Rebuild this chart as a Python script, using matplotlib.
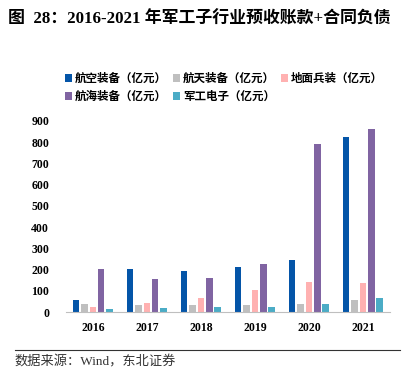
import numpy as np
import matplotlib
matplotlib.use("Agg")
import matplotlib.pyplot as plt

# Data
years = ["2016", "2017", "2018", "2019", "2020", "2021"]
series_names = ["航空装备（亿元）", "航天装备（亿元）", "地面兵装（亿元）",
                "航海装备（亿元）", "军工电子（亿元）"]
aviation = [56, 202, 193, 210, 246, 825]
space = [38, 34, 34, 34, 39, 55]
ground = [22, 42, 66, 105, 141, 138]
navy = [202, 155, 158, 226, 792, 861]
electronics = [16, 19, 23, 23, 39, 66]
colors = ["#0455A8", "#BFBFBF", "#FFB1B1", "#8064A2", "#4BACC6"]

cjk = ["Liberation Serif", "Noto Sans CJK SC", "DejaVu Sans"]
plt.rcParams["font.family"] = cjk

fig = plt.figure(figsize=(4.17, 3.73), dpi=100)
ax = fig.add_axes([0.158, 0.1635, 0.777, 0.5125])

x = np.arange(len(years))
step = 0.155
width = 0.12
all_series = [aviation, space, ground, navy, electronics]
handles = []
for i, (vals, name, c) in enumerate(zip(all_series, series_names, colors)):
    h = ax.bar(x + (i - 2) * step, vals, width=width, color=c, label=name)
    handles.append(h)

ax.set_xlim(-0.5, 5.5)
ax.set_ylim(0, 900)
ax.set_yticks(range(0, 901, 100))
ax.set_xticks(x)
ax.set_xticklabels(years)
for lab in ax.get_xticklabels() + ax.get_yticklabels():
    lab.set_fontweight("bold")
    lab.set_fontsize(8.5)
    lab.set_family("Liberation Serif")
ax.tick_params(axis="both", length=0)
ax.tick_params(axis="y", pad=12)
ax.tick_params(axis="x", pad=7)
for s in ["top", "right", "left"]:
    ax.spines[s].set_visible(False)
ax.spines["bottom"].set_color("#BFBFBF")

# legend, two rows filled row by row (matplotlib fills by column)
order = [0, 3, 1, 4, 2]
leg = fig.legend(handles=[handles[k] for k in order],
                 labels=[series_names[k] for k in order], loc="upper left",
                 bbox_to_anchor=(0.13, 0.835), ncol=3, frameon=False,
                 prop={"family": ["Noto Sans CJK SC"], "size": 8.3, "weight": "bold"},
                 handlelength=0.6, handleheight=0.6, handletextpad=0.3,
                 columnspacing=0.5, labelspacing=0.45)

fig.text(0.02, 0.968, "图  28：2016-2021 年军工子行业预收账款+合同负债",
         fontsize=12.2, fontweight="bold", va="top", ha="left", family=cjk)

fig.add_artist(plt.Line2D([0.035, 0.96], [0.062, 0.062], color="#333333", lw=0.8,
                          transform=fig.transFigure))
fig.text(0.035, 0.03, "数据来源：Wind，东北证券", fontsize=9.5, va="center",
         ha="left", color="#333333", family=cjk)

fig.savefig("out.png", dpi=100)
